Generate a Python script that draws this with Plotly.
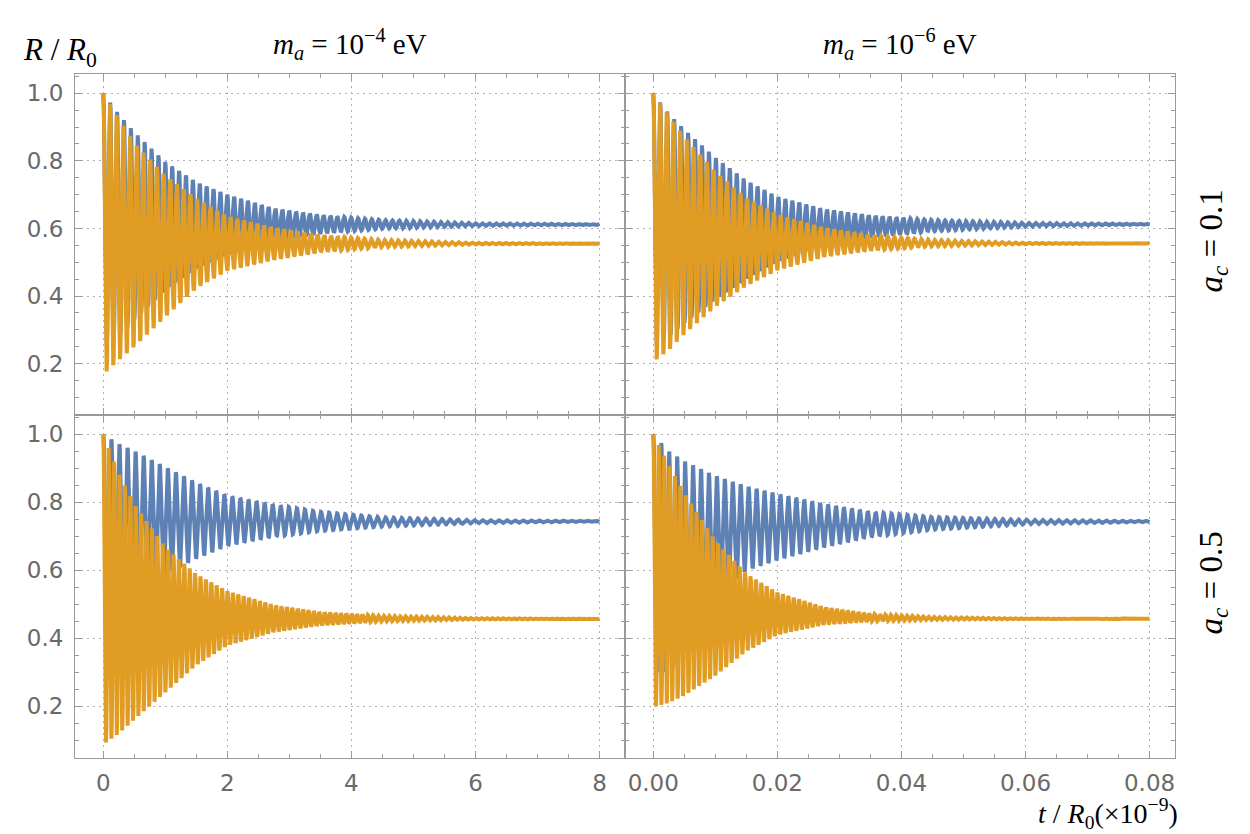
import numpy as np
import plotly.graph_objects as go

BLUE = "#5E81B5"
ORANGE = "#E19C24"

# envelope sample times (left column in t/R0, right column in t/R0 x1e-9)
T_LEFT = [0, 0.25, 0.5, 1.0, 1.5, 2.0, 2.75, 3.5, 4.5, 6.0, 8.0]
T_RIGHT = [0, 0.0025, 0.005, 0.01, 0.015, 0.02, 0.0275, 0.035, 0.045, 0.06, 0.08]

# upper / lower envelopes
TL_BLUE_UP = [1.0, 0.938, 0.885, 0.797, 0.737, 0.700, 0.659, 0.639, 0.625, 0.616, 0.613]
TL_BLUE_LO = [0.25, 0.28, 0.33, 0.42, 0.482, 0.522, 0.564, 0.585, 0.599, 0.607, 0.610]
TL_ORANGE_UP = [1.0, 0.925, 0.853, 0.757, 0.688, 0.636, 0.602, 0.580, 0.566, 0.558, 0.556]
TL_ORANGE_LO = [0.168, 0.21, 0.25, 0.338, 0.423, 0.475, 0.507, 0.530, 0.545, 0.552, 0.554]

TR_BLUE_UP = [1.0, 0.940, 0.893, 0.810, 0.742, 0.694, 0.657, 0.638, 0.625, 0.617, 0.614]
TR_BLUE_LO = [0.25, 0.28, 0.32, 0.39, 0.45, 0.50, 0.545, 0.572, 0.592, 0.605, 0.611]
TR_ORANGE_UP = [1.0, 0.935, 0.872, 0.768, 0.690, 0.642, 0.602, 0.580, 0.566, 0.558, 0.556]
TR_ORANGE_LO = [0.205, 0.24, 0.287, 0.368, 0.43, 0.476, 0.516, 0.535, 0.547, 0.553, 0.555]

BL_BLUE_UP = [1.0, 0.972, 0.951, 0.904, 0.858, 0.820, 0.793, 0.772, 0.756, 0.748, 0.746]
BL_BLUE_LO = [0.48, 0.50, 0.535, 0.588, 0.635, 0.672, 0.699, 0.716, 0.729, 0.738, 0.743]
BL_ORANGE_UP = [1.0, 0.885, 0.795, 0.668, 0.589, 0.539, 0.498, 0.477, 0.466, 0.460, 0.458]
BL_ORANGE_LO = [0.088, 0.12, 0.161, 0.241, 0.321, 0.379, 0.418, 0.438, 0.450, 0.455, 0.456]

BR_BLUE_UP = [1.0, 0.950, 0.921, 0.878, 0.847, 0.825, 0.795, 0.772, 0.757, 0.749, 0.746]
BR_BLUE_LO = [0.30, 0.30, 0.37, 0.52, 0.60, 0.63, 0.668, 0.698, 0.720, 0.735, 0.742]
BR_ORANGE_UP = [1.0, 0.910, 0.827, 0.688, 0.590, 0.535, 0.492, 0.472, 0.463, 0.459, 0.458]
BR_ORANGE_LO = [0.198, 0.21, 0.232, 0.29, 0.362, 0.41, 0.44, 0.45, 0.454, 0.456, 0.457]

# oscillation periods read from peak spacing
TL_PERIODS = [0.111, 0.108]
TR_PERIODS = [0.00112, 0.00108]
BL_PERIODS = [0.130, 0.087]
BR_PERIODS = [0.00128, 0.00087]

X_LEFT_TICKS = [0, 2, 4, 6, 8]
X_RIGHT_TICKS = [0.0, 0.02, 0.04, 0.06, 0.08]
X_RIGHT_LABELS = ["0.00", "0.02", "0.04", "0.06", "0.08"]
Y_TICKS = [0.2, 0.4, 0.6, 0.8, 1.0]
Y_LABELS = ["0.2", "0.4", "0.6", "0.8", "1.0"]

COL_TITLES = ["<i>m</i><sub><i>a</i></sub> = 10<sup>\u22124</sup> eV",
              "<i>m</i><sub><i>a</i></sub> = 10<sup>\u22126</sup> eV"]
ROW_TITLES = ["<i>a</i><sub><i>c</i></sub> = 0.1", "<i>a</i><sub><i>c</i></sub> = 0.5"]


def oscillation(t_env, up, lo, period):
    t_end = t_env[-1]
    t = np.linspace(0, t_end, int(round(t_end / period * 40)) + 1)
    u = np.interp(t, t_env, up)
    l = np.interp(t, t_env, lo)
    return t, (u + l) / 2 + (u - l) / 2 * np.cos(2 * np.pi * t / period)


fig = go.Figure()

panels = [
    ("x", "y", T_LEFT, TL_BLUE_UP, TL_BLUE_LO, TL_ORANGE_UP, TL_ORANGE_LO, TL_PERIODS),
    ("x2", "y2", T_RIGHT, TR_BLUE_UP, TR_BLUE_LO, TR_ORANGE_UP, TR_ORANGE_LO, TR_PERIODS),
    ("x3", "y3", T_LEFT, BL_BLUE_UP, BL_BLUE_LO, BL_ORANGE_UP, BL_ORANGE_LO, BL_PERIODS),
    ("x4", "y4", T_RIGHT, BR_BLUE_UP, BR_BLUE_LO, BR_ORANGE_UP, BR_ORANGE_LO, BR_PERIODS),
]
for xa, ya, te, bu, bl, ou, ol, per in panels:
    tb, yb = oscillation(te, bu, bl, per[0])
    to, yo = oscillation(te, ou, ol, per[1])
    fig.add_trace(go.Scatter(x=tb, y=yb, mode="lines", xaxis=xa, yaxis=ya,
                             line=dict(color=BLUE, width=4), showlegend=False, hoverinfo="skip"))
    fig.add_trace(go.Scatter(x=to, y=yo, mode="lines", xaxis=xa, yaxis=ya,
                             line=dict(color=ORANGE, width=4), showlegend=False, hoverinfo="skip"))

W, H = 1250, 834
XD1 = [75 / W, 625 / W]
XD2 = [625 / W, 1175 / W]
YD1 = [(H - 415) / H, (H - 74) / H]
YD2 = [(H - 758) / H, (H - 415) / H]
YR = [0.048, 1.057]
XR1 = [-0.456, 8.41]
XR2 = [-0.00456, 0.0841]

FRAME = "#9a9a9a"
TICKFONT = dict(family="DejaVu Sans, Verdana, sans-serif", size=23, color="#6a6a6a")

base = dict(showline=True, linecolor=FRAME, linewidth=1, mirror="ticks", ticks="inside",
            ticklen=7, tickcolor=FRAME, tickwidth=1, showgrid=True, gridcolor="#b0b0b0",
            griddash="2px,4px", gridwidth=1, zeroline=False, tickfont=TICKFONT)


def xax(dom, rng, anchor, left, labels):
    d = dict(base, domain=dom, range=rng, anchor=anchor, ticklabelstandoff=4)
    if left:
        d.update(tickvals=X_LEFT_TICKS, ticktext=[str(v) for v in X_LEFT_TICKS],
                 minor=dict(ticks="inside", ticklen=4, tickcolor=FRAME, tick0=0, dtick=0.5, showgrid=False))
    else:
        d.update(tickvals=X_RIGHT_TICKS, ticktext=X_RIGHT_LABELS,
                 minor=dict(ticks="inside", ticklen=4, tickcolor=FRAME, tick0=0, dtick=0.005, showgrid=False))
    d["showticklabels"] = labels
    return d


def yax(dom, anchor, labels):
    d = dict(base, domain=dom, range=YR, anchor=anchor, tickvals=Y_TICKS, ticktext=Y_LABELS,
             ticklabelstandoff=6,
             minor=dict(ticks="inside", ticklen=4, tickcolor=FRAME, tick0=0, dtick=0.05, showgrid=False))
    d["showticklabels"] = labels
    return d


fig.update_layout(
    width=W, height=H, margin=dict(l=0, r=0, t=0, b=0),
    paper_bgcolor="white", plot_bgcolor="white",
    xaxis=xax(XD1, XR1, "y", True, False),
    xaxis2=xax(XD2, XR2, "y2", False, False),
    xaxis3=xax(XD1, XR1, "y3", True, True),
    xaxis4=xax(XD2, XR2, "y4", False, True),
    yaxis=yax(YD1, "x", True),
    yaxis2=yax(YD1, "x2", False),
    yaxis3=yax(YD2, "x3", True),
    yaxis4=yax(YD2, "x4", False),
)

SERIF = "Liberation Serif, DejaVu Serif, serif"
ann = []
for i, title in enumerate(COL_TITLES):
    cx = (XD1 if i == 0 else XD2)
    ann.append(dict(text=title, x=(cx[0] + cx[1]) / 2, y=1 - 44 / H, xref="paper", yref="paper",
                    showarrow=False, font=dict(family=SERIF, size=29, color="black"),
                    xanchor="center", yanchor="middle"))
for i, title in enumerate(ROW_TITLES):
    cy = (YD1 if i == 0 else YD2)
    ann.append(dict(text=title, x=1213 / W, y=(cy[0] + cy[1]) / 2 + 3 / H, xref="paper", yref="paper",
                    showarrow=False, textangle=-90, font=dict(family=SERIF, size=33, color="black"),
                    xanchor="center", yanchor="middle"))
ann.append(dict(text="<i>R</i> / <i>R</i><sub>0</sub>", x=60 / W, y=1 - 52 / H, xref="paper", yref="paper",
                showarrow=False, font=dict(family=SERIF, size=31, color="black"),
                xanchor="center", yanchor="middle"))
ann.append(dict(text="<i>t</i> / <i>R</i><sub>0</sub>(\u00d710<sup>\u22129</sup>)", x=1108 / W, y=0,
                xref="paper", yref="paper", showarrow=False, borderpad=0,
                font=dict(family=SERIF, size=28, color="black"), xanchor="center", yanchor="bottom"))
fig.update_layout(annotations=ann)

fig.write_html("out.html")
